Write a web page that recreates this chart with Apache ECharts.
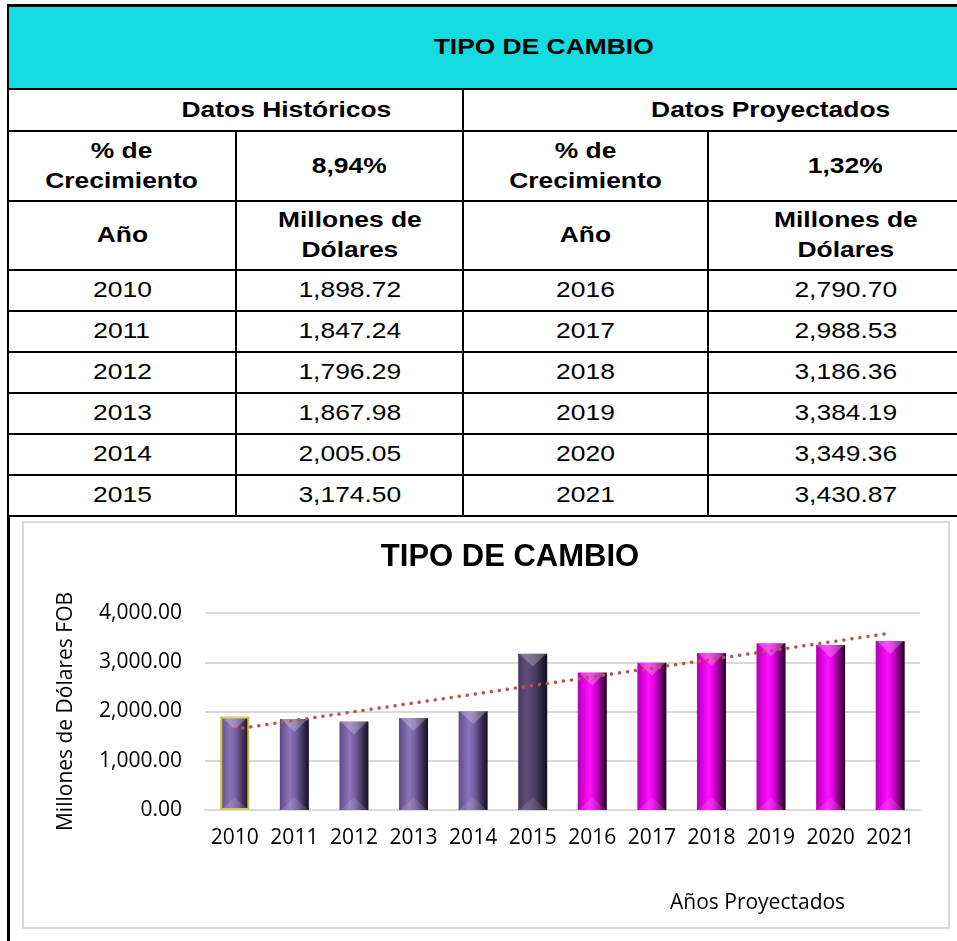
<!DOCTYPE html>
<html>
<head>
<meta charset="utf-8">
<script src="https://cdn.jsdelivr.net/npm/echarts@6/dist/echarts.min.js"></script>
<style>
  html, body { margin: 0; padding: 0; background: #fff; }
  body { width: 957px; height: 941px; overflow: hidden; position: relative; }
  #tabla {
    position: absolute; left: 7px; top: 4px;
    width: 975px; table-layout: fixed;
    border-collapse: collapse;
    font-family: "Liberation Sans", Arial, sans-serif;
    font-size: 22px; color: #000;
  }
  #tabla td { border: 2px solid #000; text-align: center; padding: 0; overflow: hidden; white-space: nowrap; }
  #tabla .b { font-weight: bold; }
  #tabla .titulo { background: #13dbe0; border-top: 3px solid #000; }
  #tabla .s { display: inline-block; transform: scaleX(1.2); line-height: 30px; }
  #marco { position: absolute; left: 7px; top: 516px; width: 960px; height: 430px; border-left: 3px solid #000; }
  #grafico { position: absolute; left: 0; top: 517px; width: 957px; height: 424px; }
</style>
</head>
<body>
<table id="tabla"></table>
<div id="marco"></div>
<div id="grafico"></div>
<script>
// datos de la tabla y del grafico
var aniosHist = ['2010', '2011', '2012', '2013', '2014', '2015'];
var valoresHist = [1898.72, 1847.24, 1796.29, 1867.98, 2005.05, 3174.50];
var aniosProy = ['2016', '2017', '2018', '2019', '2020', '2021'];
var valoresProy = [2790.70, 2988.53, 3186.36, 3384.19, 3349.36, 3430.87];
var crecHist = '8,94%';
var crecProy = '1,32%';
// linea de tendencia (inicio 2010, fin 2021)
var tendencia = [1640, 3590];

function fmt(v) {
  return v.toLocaleString('en-US', { minimumFractionDigits: 2, maximumFractionDigits: 2 });
}
function celda(txt, cls, extra) {
  return '<td class="' + (cls || '') + '"' + (extra || '') + '><span class="s">' + txt + '</span></td>';
}

// armar la tabla
var html = '<colgroup><col style="width:228px"><col style="width:227px"><col style="width:245px"><col style="width:275px"></colgroup>';
html += '<tr style="height:83px">' + celda('TIPO DE CAMBIO', 'b titulo', ' colspan="4" style="padding-left:96px"') + '</tr>';
html += '<tr style="height:42px">' + celda('Datos Históricos', 'b', ' colspan="2" style="padding-left:102px"') +
        celda('Datos Proyectados', 'b', ' colspan="2" style="padding-left:95px"') + '</tr>';
html += '<tr style="height:70px">' + celda('% de<br>Crecimiento', 'b') + celda(crecHist, 'b') +
        celda('% de<br>Crecimiento', 'b') + celda(crecProy, 'b') + '</tr>';
html += '<tr style="height:69px">' + celda('Año', 'b') + celda('Millones de<br>Dólares', 'b') +
        celda('Año', 'b') + celda('Millones de<br>Dólares', 'b') + '</tr>';
for (var i = 0; i < aniosHist.length; i++) {
  html += '<tr style="height:41px">' + celda(aniosHist[i]) + celda(fmt(valoresHist[i])) +
          celda(aniosProy[i]) + celda(fmt(valoresProy[i])) + '</tr>';
}
document.getElementById('tabla').innerHTML = html;

// colores de las barras
function grad(stops) {
  return new echarts.graphic.LinearGradient(0, 0, 1, 0, stops.map(function (c) {
    return { offset: c[0], color: c[1] };
  }));
}
var colorHist = grad([[0, '#5a4a80'], [0.12, '#6e5a9a'], [0.35, '#8c74ba'], [0.55, '#725e9e'], [0.8, '#3c3056'], [1, '#15101e']]);
var color2015 = grad([[0, '#463a5e'], [0.3, '#5e4e7e'], [0.6, '#473b60'], [1, '#121016']]);
var colorProy = grad([[0, '#b000b0'], [0.15, '#d400d4'], [0.4, '#ff10ff'], [0.6, '#d800d8'], [0.85, '#640064'], [1, '#200020']]);

var categorias = aniosHist.concat(aniosProy);
var valores = valoresHist.concat(valoresProy);
var barras = [];
valoresHist.forEach(function (v, k) {
  var item = { value: v, itemStyle: { color: k === 5 ? color2015 : colorHist } };
  if (k === 0) {
    item.itemStyle.borderColor = '#c9c43c';
    item.itemStyle.borderWidth = 2;
  }
  barras.push(item);
});
valoresProy.forEach(function (v) {
  barras.push({ value: v, itemStyle: { color: colorProy } });
});

var chart = echarts.init(document.getElementById('grafico'), null, { renderer: 'canvas' });
var fuente = 'Open Sans';
var option = {
  animation: false,
  title: {
    text: 'TIPO DE CAMBIO',
    left: 505,
    top: 20,
    textAlign: 'center',
    textStyle: { fontFamily: 'Liberation Sans', fontWeight: 'bold', fontSize: 31, color: '#000' }
  },
  grid: { left: 205, right: 37, top: 96, bottom: 131 },
  xAxis: {
    type: 'category',
    data: categorias,
    axisTick: { show: false },
    axisLine: { lineStyle: { color: '#d9d9d9', width: 2 } },
    axisLabel: { fontFamily: fuente, fontSize: 21, color: '#000', margin: 18, interval: 0 }
  },
  yAxis: {
    type: 'value',
    min: 0,
    max: 4000,
    interval: 1000,
    name: 'Millones de Dólares FOB',
    nameLocation: 'middle',
    nameGap: 128,
    nameTextStyle: { fontFamily: fuente, fontSize: 21, color: '#000' },
    axisLabel: { fontFamily: fuente, fontSize: 21, color: '#000', margin: 23, formatter: fmt },
    splitLine: { lineStyle: { color: '#d9d9d9', width: 2 } }
  },
  graphic: [
    { type: 'rect', shape: { x: 23, y: 5, width: 926, height: 406 }, style: { fill: 'none', stroke: '#d9d9d9', lineWidth: 2 }, silent: true },
    { type: 'text', left: 766 - 96, top: 376, style: { text: 'Años Proyectados', font: '21px "Open Sans"', fill: '#000' } }
  ],
  series: [
    {
      type: 'bar',
      data: barras,
      barWidth: 29
    },
    {
      // bisel superior de cada barra
      type: 'pictorialBar',
      data: valores,
      symbol: 'path://M0,0 L2,0 L1,1 Z',
      symbolSize: [27, 13],
      symbolPosition: 'end',
      itemStyle: { color: 'rgba(255,255,255,0.25)' },
      silent: true,
      z: 3
    },
    {
      // bisel inferior
      type: 'pictorialBar',
      data: valores,
      symbol: 'path://M0,1 L2,1 L1,0 Z',
      symbolSize: [27, 13],
      symbolPosition: 'start',
      itemStyle: { color: 'rgba(255,255,255,0.12)' },
      silent: true,
      z: 3
    },
    {
      type: 'line',
      data: [[categorias[0], tendencia[0]], [categorias[categorias.length - 1], tendencia[1]]],
      symbol: 'none',
      lineStyle: { color: '#c0504d', width: 3.5, type: [0.1, 8], cap: 'round' },
      z: 5
    }
  ]
};
chart.setOption(option);
</script>
</body>
</html>
